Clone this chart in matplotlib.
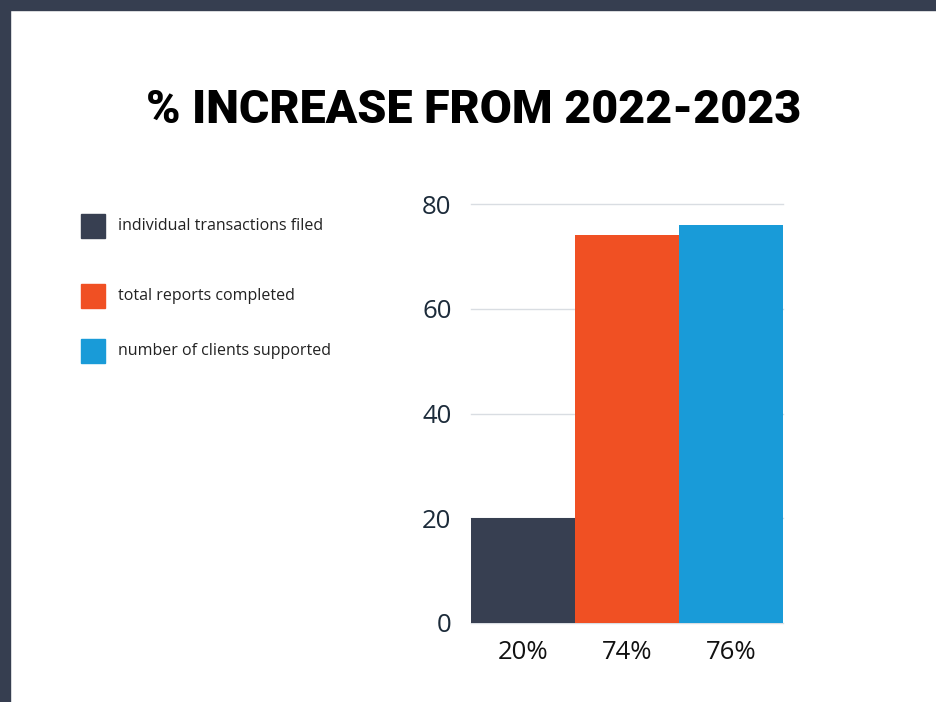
import matplotlib
matplotlib.use('Agg')
import matplotlib.pyplot as plt
from matplotlib.patches import Rectangle

# values (percent increase 2022 -> 2023)
categories = ['individual transactions filed', 'total reports completed', 'number of clients supported']
values = [20, 74, 76]
tick_labels = ['20%', '74%', '76%']
colors = ['#373f51', '#f05023', '#199bd8']

W, H = 936, 702
fig = plt.figure(figsize=(W / 100, H / 100), dpi=100)
fig.patch.set_facecolor('white')

# dark frame along the top and left edge
fig.add_artist(Rectangle((0, 1 - 10 / H), 1, 10 / H, transform=fig.transFigure,
                         color='#363e50', zorder=0))
fig.add_artist(Rectangle((0, 0), 10 / W, 1, transform=fig.transFigure,
                         color='#363e50', zorder=0))

fig.text(474 / W, 1 - 110 / H, '% INCREASE FROM 2022-2023', ha='center', va='center',
         fontsize=33.5, fontweight='black', family='Roboto', color='black')

ax = fig.add_axes([471 / W, (H - 623) / H, (783 - 471) / W, (623 - 204) / H])
x = range(len(values))
ax.bar(x, values, width=1.0, color=colors, zorder=3)
ax.set_xlim(-0.5, 2.5)
ax.set_ylim(0, 80)
ax.set_yticks([0, 20, 40, 60, 80])
ax.set_xticks(list(x))
ax.set_xticklabels(tick_labels)
ax.grid(axis='y', color='#d9dde2', linewidth=1, zorder=0)
for gl in ax.get_ygridlines():
    gl.set_clip_on(False)
for s in ax.spines.values():
    s.set_visible(False)
ax.tick_params(axis='both', length=0, labelsize=18.5)
ax.tick_params(axis='y', pad=14, labelcolor='#1c2b3a')
ax.tick_params(axis='x', pad=12, labelcolor='#111111')
for lab in ax.get_xticklabels() + ax.get_yticklabels():
    lab.set_family('Open Sans')

# legend boxes on the left
legend_y = [226, 296, 351]
for name, c, yc in zip(categories, colors, legend_y):
    fig.add_artist(Rectangle((81 / W, 1 - (yc + 12) / H), 24 / W, 24 / H,
                             transform=fig.transFigure, color=c))
    fig.text(118 / W, 1 - yc / H, name, ha='left', va='center', fontsize=11.5,
             family='Open Sans', color='#222222')

fig.savefig('out.png', dpi=100)
